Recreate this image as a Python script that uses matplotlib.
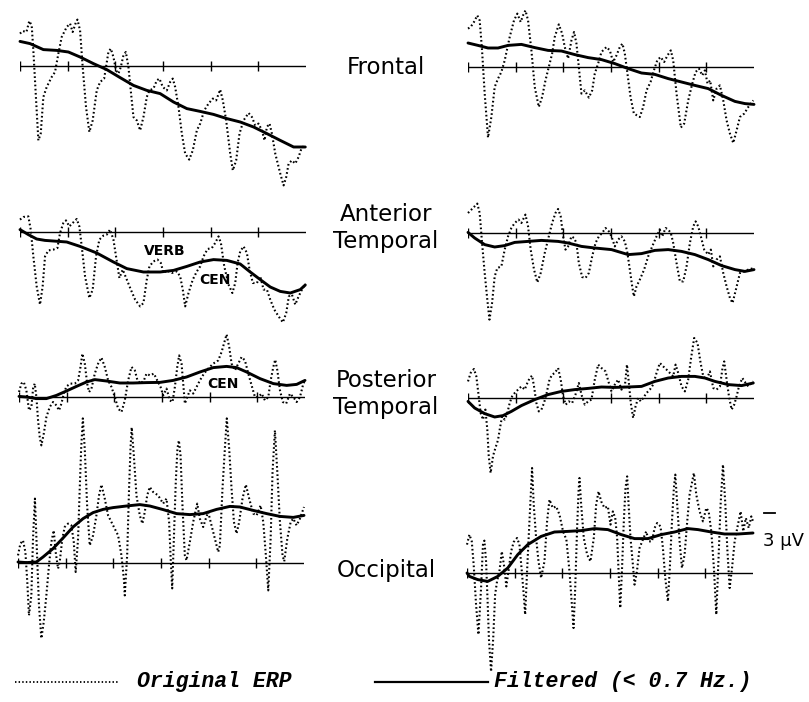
import matplotlib
matplotlib.use("Agg")
import matplotlib.pyplot as plt
from matplotlib.lines import Line2D

# time in ms (0..1200), amplitude in microvolts
tick_ms = [0, 200, 400, 600, 800, 1000]

frontal_l_raw = [(0,1.62),(11,1.75),(27,1.7),(39,2.25),(49,2.03),(56,0.78),(66,-1.38),(77,-3.72),(87,-3.38),(98,-1.55),
    (112,-1.05),(133,-0.55),(147,-0.3),(161,0.62),(175,1.45),(196,1.95),(210,2.12),(221,1.7),(235,2.2),(241,2.32),
    (252,1.78),(263,-0.05),(277,-2.05),(291,-3.3),(305,-2.72),(322,-1.22),(336,-0.8),(353,-0.63),(361,-0.05),(371,0.7),
    (381,0.87),(392,0.45),(403,-0.22),(413,-0.38),(423,-0.05),(434,0.53),(444,0.7),(455,-0.05),(466,-1.38),(476,-2.55),
    (490,-2.72),(504,-3.22),(518,-2.55),(532,-1.55),(543,-1.22),(560,-1.13),(574,-0.72),(585,-0.63),(599,-1.05),(616,-1.22),
    (630,-0.8),(641,-0.63),(651,-1.05),(665,-2.05),(679,-3.38),(693,-4.38),(710,-4.68),(725,-4.22),(742,-3.22),(756,-2.88),
    (773,-2.22),(791,-1.88),(809,-1.63),(823,-1.72),(840,-1.18),(851,-1.72),(865,-2.72),(882,-4.38),(893,-5.22),(907,-4.72),
    (921,-3.38),(938,-2.72),(959,-2.35),(973,-2.55),(987,-2.97),(1001,-2.88),(1015,-3.22),(1026,-3.72),(1036,-3.05),(1047,-2.88),
    (1057,-3.38),(1071,-4.38),(1092,-5.38),(1106,-5.97),(1117,-5.55),(1127,-4.88),(1141,-4.72),(1155,-4.88),(1169,-4.55),(1183,-4.05),
    (1197,-4.02)]
frontal_l_filt = [(0,1.23),(42,1.12),(98,0.82),(154,0.78),(203,0.7),(252,0.45),(308,0.12),(364,-0.18),(420,-0.58),
    (476,-0.97),(532,-1.22),(588,-1.38),(644,-1.8),(700,-2.13),(756,-2.27),(812,-2.42),(868,-2.63),(924,-2.8),
    (980,-3.05),(1036,-3.38),(1092,-3.72),(1148,-4.05),(1197,-4.05)]

frontal_r_raw = [(0,1.92),(11,2.0),(25,2.25),(39,2.58),(49,2.33),(59,0.83),(70,-1.33),(84,-3.53),(98,-2.5),(112,-1.0),
    (126,-0.58),(140,-0.25),(154,0.33),(175,1.5),(193,2.33),(207,2.67),(221,2.25),(231,2.58),(241,2.83),(252,2.33),
    (266,0.83),(280,-1.0),(297,-2.0),(311,-1.5),(325,-0.67),(339,0.0),(353,0.67),(364,1.5),(381,2.13),(395,1.67),
    (406,1.0),(420,0.42),(434,1.33),(445,1.75),(455,1.17),(465,0.0),(476,-1.33),(490,-1.17),(507,-1.53),(521,-1.17),
    (532,-0.33),(546,0.17),(560,0.75),(581,1.0),(595,0.83),(609,0.25),(623,0.58),(637,1.0),(648,1.17),(658,0.67),
    (669,-0.33),(682,-1.5),(696,-2.33),(721,-2.5),(735,-2.0),(749,-1.17),(766,-0.75),(780,-0.17),(794,0.33),(808,0.5),
    (823,0.25),(837,0.58),(851,0.83),(861,0.33),(875,-1.33),(893,-3.03),(907,-2.83),(924,-1.67),(941,-0.83),(955,-0.25),
    (969,-0.08),(983,-0.42),(994,-0.17),(1005,-0.83),(1016,-0.67),(1029,-1.67),(1043,-1.08),(1057,-0.92),(1071,-1.67),
    (1085,-2.67),(1099,-3.33),(1113,-3.8),(1127,-3.17),(1141,-2.5),(1159,-2.33),(1176,-2.0),(1197,-1.67)]
frontal_r_filt = [(0,1.2),(42,1.08),(84,0.95),(126,0.95),(168,1.08),(224,1.13),(280,0.97),(336,0.83),(392,0.8),
    (448,0.62),(504,0.47),(560,0.37),(616,0.17),(672,-0.08),(728,-0.3),(784,-0.37),(840,-0.58),(896,-0.75),
    (952,-0.92),(1008,-1.08),(1064,-1.42),(1120,-1.72),(1162,-1.83),(1200,-1.87)]

anttemp_l_raw = [(0,0.62),(14,0.75),(35,0.78),(45,0.12),(56,-1.22),(70,-2.72),(84,-3.63),(95,-2.72),(105,-1.22),(119,-0.92),
    (140,-0.88),(157,-0.8),(168,-0.05),(182,0.45),(193,0.58),(207,0.28),(221,0.45),(238,0.65),(249,0.28),(259,-0.72),
    (273,-2.22),(291,-3.3),(305,-2.88),(319,-1.22),(333,-0.38),(350,-0.18),(364,-0.13),(378,0.12),(392,-0.38),(403,-1.22),
    (417,-2.3),(431,-1.88),(448,-2.38),(465,-2.88),(483,-3.38),(504,-3.72),(518,-3.55),(532,-2.38),(543,-1.72),(560,-1.47),
    (577,-1.38),(591,-1.55),(602,-2.05),(616,-1.92),(637,-2.05),(658,-1.97),(672,-2.22),(683,-2.88),(693,-3.72),(707,-3.05),
    (725,-2.38),(742,-1.97),(756,-1.72),(770,-1.22),(787,-0.85),(805,-0.8),(819,-0.55),(833,-0.22),(843,-0.55),(857,-1.72),
    (875,-2.63),(891,-3.05),(903,-2.55),(913,-1.55),(924,-0.97),(938,-0.72),(952,-1.05),(963,-1.88),(977,-2.55),(994,-2.55),
    (1008,-2.22),(1022,-2.88),(1036,-2.88),(1050,-3.38),(1067,-3.88),(1085,-4.22),(1103,-4.52),(1117,-4.05),(1128,-3.22),
    (1141,-3.13),(1155,-3.63),(1169,-3.22),(1183,-2.88),(1197,-2.58)]
anttemp_l_filt = [(0,0.12),(35,-0.13),(70,-0.35),(105,-0.42),(140,-0.45),(196,-0.5),(252,-0.72),(322,-1.05),(392,-1.5),
    (448,-1.83),(518,-2.0),(588,-2.0),(644,-1.92),(700,-1.72),(756,-1.5),(812,-1.38),(868,-1.42),(924,-1.6),
    (966,-2.0),(1008,-2.38),(1050,-2.75),(1092,-2.97),(1134,-3.05),(1176,-2.88),(1197,-2.65)]

anttemp_r_raw = [(0,1.0),(11,1.13),(25,1.3),(39,1.47),(49,1.0),(59,-0.5),(70,-2.0),(81,-3.33),(90,-4.33),(101,-3.5),
    (112,-2.17),(123,-1.75),(140,-1.67),(154,-0.83),(168,-0.17),(182,0.25),(196,0.5),(212,0.67),(224,0.5),(241,0.92),
    (252,0.33),(263,-0.83),(277,-1.83),(291,-2.47),(305,-2.0),(322,-1.0),(339,-0.17),(353,0.5),(367,1.0),(378,1.2),
    (389,0.83),(399,-0.17),(409,-0.83),(420,-0.67),(434,-0.17),(445,-0.25),(455,-0.5),(465,-1.5),(479,-2.2),(493,-2.25),
    (507,-2.0),(521,-1.17),(535,-0.5),(549,-0.17),(563,0.0),(577,0.25),(591,0.08),(602,-0.17),(616,-0.67),(630,-0.33),
    (644,-0.17),(658,-0.42),(669,-1.0),(679,-1.83),(689,-2.67),(696,-3.17),(707,-2.67),(721,-2.33),(739,-1.83),(756,-1.17),
    (773,-0.67),(791,-0.17),(805,0.17),(815,-0.17),(829,0.25),(840,0.17),(851,0.0),(861,-0.5),(875,-1.5),(889,-2.42),
    (903,-2.42),(917,-1.67),(931,-0.5),(945,0.33),(955,0.58),(966,0.33),(977,-0.17),(991,-0.83),(1008,-1.08),(1019,-0.83),
    (1029,-1.67),(1043,-1.33),(1057,-1.17),(1071,-2.0),(1085,-2.67),(1099,-3.25),(1110,-3.5),(1124,-2.83),(1141,-2.0),
    (1159,-1.92),(1176,-1.83),(1200,-1.75)]
anttemp_r_filt = [(0,0.03),(28,-0.25),(70,-0.58),(112,-0.7),(154,-0.63),(196,-0.47),(252,-0.42),(308,-0.37),(378,-0.42),
    (420,-0.5),(476,-0.67),(532,-0.75),(602,-0.83),(672,-1.08),(728,-1.03),(784,-0.87),(840,-0.83),(896,-0.92),
    (952,-1.08),(1008,-1.33),(1064,-1.63),(1120,-1.83),(1162,-1.92),(1200,-1.83)]

posttemp_l_raw = [(0,0.25),(10,0.67),(20,0.75),(31,0.33),(42,-0.67),(52,-0.5),(59,0.42),(66,0.67),(73,0.0),(80,-1.17),
    (87,-2.0),(94,-2.42),(104,-1.83),(115,-1.0),(129,-0.5),(143,-0.25),(157,-0.42),(168,-0.67),(178,-0.33),(188,0.17),
    (199,0.53),(216,0.67),(234,0.67),(248,0.83),(258,1.5),(266,2.17),(276,1.67),(286,0.67),(294,0.25),(304,0.42),
    (318,1.17),(332,1.67),(346,1.97),(360,1.5),(374,0.83),(388,0.5),(402,0.0),(416,-0.58),(430,-0.75),(444,-0.17),
    (458,0.83),(472,1.5),(486,1.33),(497,0.83),(510,0.67),(524,0.83),(535,1.17),(549,1.08),(566,1.17),(580,0.83),
    (594,0.5),(605,0.08),(619,0.42),(633,-0.17),(644,-0.25),(654,0.5),(664,1.5),(672,2.08),(682,1.67),(689,0.67),
    (696,-0.33),(706,0.0),(717,0.33),(731,0.17),(745,0.5),(759,0.83),(776,1.17),(794,1.42),(815,1.67),(836,1.83),
    (850,2.25),(860,2.67),(871,3.13),(882,2.5),(892,1.67),(906,1.33),(920,1.67),(934,2.0),(948,1.83),(962,1.17),
    (976,0.58),(990,0.0),(1004,0.0),(1018,0.17),(1032,-0.17),(1046,0.0),(1056,0.83),(1067,1.5),(1075,1.87),(1084,1.33),
    (1095,0.33),(1107,-0.25),(1121,-0.33),(1137,0.17),(1151,0.0),(1165,-0.25),(1179,0.0),(1193,0.67),(1200,0.83)]
posttemp_l_filt = [(0,0.03),(31,0.0),(73,-0.08),(115,-0.08),(157,0.08),(199,0.3),(241,0.53),(283,0.75),(318,0.87),
    (367,0.8),(423,0.7),(479,0.7),(535,0.72),(591,0.73),(647,0.83),(703,1.0),(759,1.25),(815,1.47),(871,1.53),
    (913,1.47),(955,1.25),(1011,0.92),(1067,0.67),(1123,0.58),(1165,0.63),(1200,0.83)]

posttemp_r_raw = [(0,0.83),(11,1.25),(25,1.45),(35,1.08),(45,0.08),(53,-0.75),(63,-1.08),(73,-0.58),(81,-1.58),(87,-2.9),
    (95,-3.75),(105,-2.9),(115,-2.5),(126,-2.1),(133,-1.58),(143,-0.92),(154,-1.08),(165,-0.75),(175,-0.25),(185,0.08),
    (196,0.25),(210,0.42),(224,0.58),(238,0.42),(249,0.75),(259,1.0),(269,1.12),(277,0.58),(287,-0.25),(297,-0.67),
    (308,-0.58),(319,-0.25),(330,0.25),(342,0.92),(353,1.17),(364,1.25),(378,1.5),(389,0.92),(399,0.08),(410,-0.33),
    (423,-0.17),(437,-0.25),(451,0.17),(465,0.75),(476,0.17),(490,-0.33),(504,-0.17),(518,-0.08),(532,0.92),(546,1.67),
    (560,1.5),(577,1.33),(591,0.75),(602,0.33),(616,0.67),(630,0.92),(644,0.42),(658,0.58),(667,1.67),(675,0.75),
    (683,-0.25),(693,-1.0),(703,-0.42),(714,0.0),(725,-0.17),(735,0.0),(749,0.25),(763,0.42),(777,0.67),(791,1.25),
    (805,1.75),(819,1.58),(833,1.42),(847,1.25),(861,1.08),(871,1.67),(882,1.25),(896,0.58),(910,0.33),(924,0.92),
    (935,1.92),(949,3.0),(963,2.75),(976,1.75),(987,1.08),(1001,0.92),(1015,1.33),(1029,0.5),(1043,0.42),(1057,0.58),
    (1067,1.42),(1075,1.83),(1085,0.92),(1095,0.08),(1106,-0.58),(1117,-0.33),(1127,0.08),(1137,0.58),(1151,1.0),
    (1165,0.75),(1176,0.58),(1197,0.83)]
posttemp_r_filt = [(0,-0.17),(28,-0.5),(70,-0.78),(112,-0.95),(147,-0.88),(182,-0.67),(224,-0.38),(280,-0.08),
    (336,0.17),(392,0.33),(448,0.42),(504,0.48),(560,0.55),(616,0.53),(672,0.55),(728,0.58),(784,0.83),(840,1.0),
    (896,1.08),(952,1.08),(994,1.0),(1036,0.83),(1092,0.67),(1148,0.62),(1197,0.75)]

occip_l_raw = [(0,0.38),(10,0.97),(21,1.13),(31,0.55),(39,-0.95),(46,-2.62),(56,-1.62),(63,1.22),(71,3.22),(80,0.38),
    (88,-2.12),(98,-3.77),(108,-2.95),(119,-1.62),(130,-0.12),(140,1.05),(150,1.63),(158,0.55),(168,-0.28),(175,0.05),
    (186,1.22),(196,1.8),(210,1.97),(224,1.88),(234,1.05),(242,-0.45),(252,1.22),(259,3.72),(265,5.72),(272,7.23),
    (280,5.72),(290,2.88),(301,0.88),(315,1.38),(329,2.38),(340,3.38),(350,3.92),(364,3.22),(378,2.38),(399,1.88),
    (420,1.38),(434,0.38),(444,-0.78),(448,-1.62),(458,0.38),(466,3.72),(472,5.72),(477,6.78),(486,5.38),(497,3.38),
    (511,2.38),(522,1.97),(532,2.55),(542,3.38),(553,3.8),(567,3.55),(588,3.38),(609,2.97),(623,3.22),(634,2.05),
    (640,0.38),(647,-1.27),(654,1.22),(662,4.05),(669,5.72),(675,6.13),(682,5.38),(690,2.88),(700,0.38),(707,0.13),
    (721,1.05),(735,2.05),(752,2.97),(763,2.22),(777,1.8),(788,2.22),(798,2.55),(812,1.88),(826,1.22),(840,0.55),
    (847,0.88),(858,3.72),(868,5.72),(876,7.23),(886,5.72),(896,3.72),(906,2.05),(917,1.47),(928,2.05),(942,3.22),
    (956,3.92),(970,3.22),(987,2.47),(1001,2.38),(1018,2.88),(1029,2.05),(1040,0.38),(1050,-1.37),(1060,1.22),(1068,4.55),
    (1078,6.63),(1088,4.55),(1099,2.05),(1110,0.38),(1117,0.08),(1130,1.22),(1144,2.05),(1155,2.22),(1169,1.88),
    (1183,2.22),(1200,2.8)]
occip_l_filt = [(0,0.05),(35,0.02),(77,0.05),(105,0.3),(147,0.72),(189,1.25),(231,1.8),(273,2.22),(315,2.52),
    (357,2.68),(399,2.77),(455,2.85),(511,2.92),(553,2.85),(609,2.67),(665,2.47),(721,2.42),(777,2.47),(833,2.68),
    (889,2.83),(931,2.8),(987,2.63),(1043,2.47),(1099,2.33),(1155,2.28),(1200,2.38)]

occip_r_raw = [(0,1.42),(10,1.92),(20,1.58),(28,0.42),(38,-1.58),(48,-3.08),(59,-0.75),(67,1.42),(73,1.62),(80,0.58),
    (87,-1.58),(92,-3.3),(101,-4.93),(110,-3.25),(118,-1.08),(126,-0.42),(136,0.08),(146,1.08),(157,0.25),(165,-0.67),
    (174,0.08),(185,1.08),(196,1.55),(210,1.75),(220,1.42),(230,0.08),(238,-1.08),(244,-2.08),(252,0.08),(262,2.58),
    (269,4.25),(273,5.25),(280,3.42),(290,1.75),(300,0.58),(311,-0.25),(325,0.58),(336,2.58),(346,3.67),(360,3.25),
    (374,3.33),(388,2.92),(403,2.08),(417,1.67),(430,0.08),(440,-1.58),(447,-2.75),(454,-0.75),(462,2.25),(468,4.08),
    (472,4.75),(479,3.42),(490,1.75),(504,0.92),(518,0.58),(532,1.75),(542,3.42),(552,4.08),(563,3.58),(577,3.25),
    (591,3.33),(602,2.42),(612,3.08),(622,2.75),(630,1.75),(636,0.08),(643,-1.75),(650,0.08),(658,2.58),(665,4.25),
    (672,4.83),(678,3.42),(686,1.75),(696,0.42),(703,-0.58),(713,0.08),(724,1.25),(738,1.67),(752,2.08),(763,1.58),
    (776,1.58),(787,2.25),(798,2.5),(812,2.33),(822,1.25),(832,-0.25),(843,-1.42),(851,0.25),(860,2.58),(868,4.25),
    (874,4.92),(882,3.42),(892,1.58),(902,0.25),(913,0.92),(924,2.58),(934,3.92),(952,5.0),(962,3.92),(976,3.08),
    (990,2.58),(1004,3.25),(1014,3.08),(1025,2.08),(1036,0.25),(1046,-2.08),(1056,0.92),(1064,3.42),(1074,5.42),
    (1084,3.42),(1092,1.25),(1102,-0.75),(1112,0.25),(1123,1.58),(1134,2.25),(1148,3.08),(1159,2.08),(1170,2.75),
    (1182,2.25),(1193,2.83),(1200,2.58)]
occip_r_filt = [(0,0.0),(10,-0.17),(45,-0.33),(87,-0.42),(129,-0.17),(171,0.25),(213,0.92),(255,1.42),(311,1.83),
    (367,2.05),(423,2.08),(479,2.12),(535,2.22),(591,2.17),(647,1.92),(703,1.72),(759,1.72),(815,1.92),(871,2.05),
    (927,2.22),(969,2.17),(1025,2.05),(1081,1.95),(1137,1.95),(1200,2.0)]

region_labels = ["Frontal", "Anterior\nTemporal", "Posterior\nTemporal", "Occipital"]
scale_uv = 3

W, H = 809, 702
fig = plt.figure(figsize=(W / 100, H / 100), dpi=100)
fig.patch.set_facecolor("white")

DOT = (0, (0.8, 1.2))


def unzip(pairs):
    return [p[0] for p in pairs], [p[1] for p in pairs]


def make_panel(x0, base):
    # 286 px wide for 1200 ms, 20 px per microvolt
    ax = fig.add_axes([x0 / W, (H - base - 200) / H, 286 / W, 400 / H])
    ax.set_xlim(0, 1200)
    ax.set_ylim(-10, 10)
    ax.axis("off")
    ax.axhline(0, color="black", lw=1.0)
    ax.plot(tick_ms, [0] * len(tick_ms), ls="none", marker="|", ms=7, mew=1.0, color="black")
    return ax


def draw(ax, raw, filt):
    tx, vy = unzip(raw)
    ax.plot(tx, vy, color="black", lw=1.5, ls=DOT, clip_on=False)
    tx, vy = unzip(filt)
    ax.plot(tx, vy, color="black", lw=2.1, solid_joinstyle="round", solid_capstyle="round", clip_on=False)


rows = [
    (66, 67, frontal_l_raw, frontal_l_filt, frontal_r_raw, frontal_r_filt, (20, 468)),
    (232, 233, anttemp_l_raw, anttemp_l_filt, anttemp_r_raw, anttemp_r_filt, (20, 468)),
    (397, 398, posttemp_l_raw, posttemp_l_filt, posttemp_r_raw, posttemp_r_filt, (19, 468)),
    (563, 573, occip_l_raw, occip_l_filt, occip_r_raw, occip_r_filt, (18, 467)),
]
axes = []
for bl, br, rl, fl, rr, fr, (xl, xr) in rows:
    a1 = make_panel(xl, bl)
    draw(a1, rl, fl)
    a2 = make_panel(xr, br)
    draw(a2, rr, fr)
    axes.append((a1, a2))

# region names in the middle column
label_y = [67, 228, 394, 571]
for lab, ly in zip(region_labels, label_y):
    fig.text(386 / W, 1 - ly / H, lab, ha="center", va="center", fontsize=16.5,
             family="DejaVu Sans", linespacing=1.2)

# annotations
ann_font = dict(fontsize=10, fontweight="bold", family=["Liberation Sans Narrow", "DejaVu Sans"],
                ha="center", va="center")
axes[1][0].text(608, -0.95, "VERB", **ann_font)
axes[1][0].text(818, -2.4, "CEN", **ann_font)
axes[2][0].text(856, 0.65, "CEN", **ann_font)

# 3 microvolt scale mark
occ_r = axes[3][1]
occ_r.plot([1246, 1292], [scale_uv, scale_uv], color="black", lw=1.3, clip_on=False)
occ_r.text(1244, 1.6, f"{scale_uv} \u03bcV", fontsize=13, ha="left", va="center", clip_on=False)

# legend at the bottom
leg_y = 1 - 682 / H
fig.add_artist(Line2D([15 / W, 118 / W], [leg_y, leg_y], transform=fig.transFigure,
                      color="black", lw=1.3, ls=DOT))
fig.add_artist(Line2D([375 / W, 488 / W], [leg_y, leg_y], transform=fig.transFigure,
                      color="black", lw=1.6))
leg_font = dict(fontsize=15.5, style="italic", fontweight="bold",
                family=["Liberation Mono", "DejaVu Sans Mono"], va="center", ha="left")
fig.text(137 / W, 1 - 681 / H, "Original ERP", **leg_font)
fig.text(494 / W, 1 - 681 / H, "Filtered (< 0.7 Hz.)", **leg_font)

fig.savefig("out.png", dpi=100)
